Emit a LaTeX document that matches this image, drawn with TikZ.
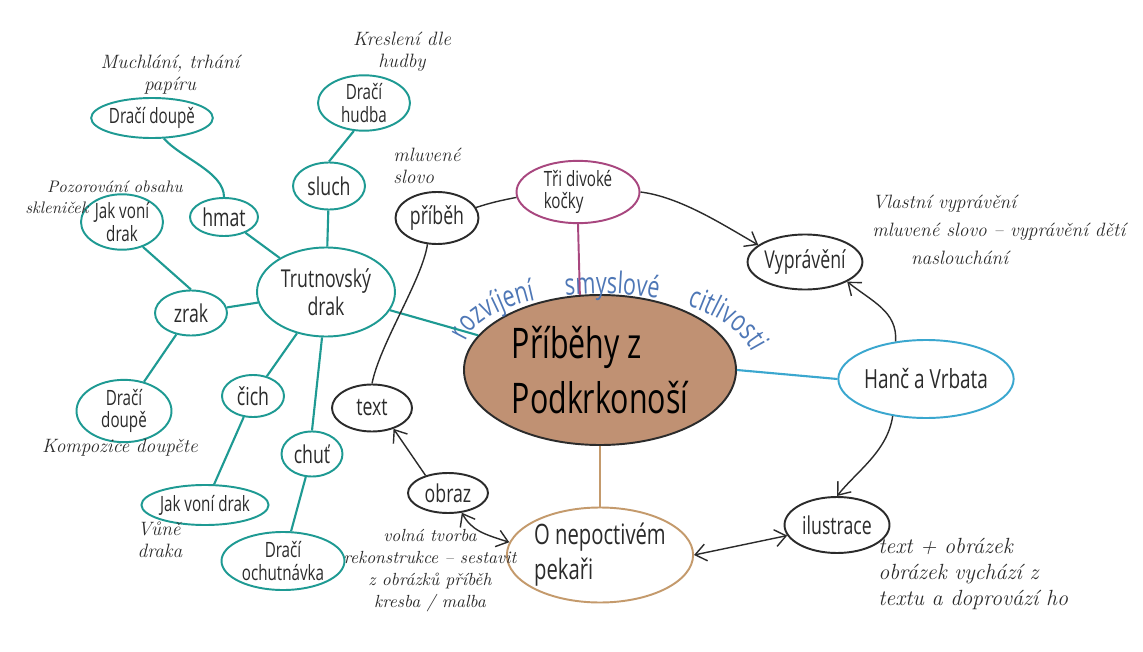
\documentclass[tikz,border=0pt]{standalone}
\usepackage{fontspec}
\newfontfamily\handfont{Open Sans}[FakeStretch=0.72]
\usepackage{tikz}
\usetikzlibrary{arrows.meta,shapes.geometric,decorations.text}
\definecolor{cteal}{HTML}{1E9A93}
\definecolor{cink}{HTML}{2B2B2B}
\definecolor{cmag}{HTML}{A8477F}
\definecolor{ccyan}{HTML}{3AA7CF}
\definecolor{ctan}{HTML}{C49A6C}
\definecolor{cbrown}{HTML}{C09173}
\definecolor{cblue}{HTML}{4E77B6}
\tikzset{
  bub/.style={ellipse, draw, line width=1.1pt, inner sep=0pt, fill=white, align=center, text=cink, font=\handfont\fontsize{14}{16}\selectfont},
  sz/.style 2 args={minimum width=#1*0.02cm, minimum height=#2*0.02cm},
  tealn/.style={bub, draw=cteal},
  inkn/.style={bub, draw=cink},
  magn/.style={bub, draw=cmag},
  cyann/.style={bub, draw=ccyan},
  tann/.style={bub, draw=ctan},
  smalln/.style={font=\handfont\fontsize{12}{13}\selectfont},
  tlink/.style={draw=cteal, line width=1.2pt},
  ilink/.style={draw=cink, line width=0.8pt},
  pre/.style={ilink, -{Straight Barb[length=2.2mm,width=3.4mm]}},
  dpre/.style={ilink, {Straight Barb[length=2.2mm,width=3.4mm]}-{Straight Barb[length=2.2mm,width=3.4mm]}},
  note/.style={font=\itshape\fontsize{11}{12.5}\selectfont, text=cink, align=center, inner sep=0pt},
}
\begin{document}
\begin{tikzpicture}[x=0.02cm, y=-0.02cm]
\useasboundingbox[fill=white] (0,0) rectangle (1143,652);
% centre
\node[inkn, fill=cbrown, sz={272}{150}, align=left, font=\handfont\fontsize{24}{31}\selectfont, text=black] (main) at (600,370) {P\v{r}íb\v{e}hy z\\Podkrkonoší};
\path[decorate, decoration={text along path, text align={fit to path stretching spaces},
  text={|\handfont\fontsize{17}{17}\selectfont\color{cblue}|rozvíjení smyslové citlivosti}}]
  (466,342) .. controls (490,278) and (712,273) .. (752,352);
% senses
\node[tealn, sz={138}{89}] (trut) at (326,292) {Trutnovský\\drak};
\node[tealn, sz={72}{47}] (sluch) at (329,186) {sluch};
\node[tealn, smalln, sz={92}{47}] (hudba) at (364,103) {Dra\v{c}í\\hudba};
\node[tealn, sz={68}{38}] (hmat) at (224,217) {hmat};
\node[tealn, smalln, sz={118}{40}] (doupeA) at (152,118) {Dra\v{c}í doup\v{e}};
\node[tealn, smalln, sz={82}{42}] (jakA) at (122,222) {Jak voní\\drak};
\node[tealn, sz={72}{45}] (zrak) at (191,313) {zrak};
\node[tealn, smalln, sz={95}{42}] (doupeB) at (124,411) {Dra\v{c}í\\doup\v{e}};
\node[tealn, sz={62}{42}] (cich) at (253,396) {\v{c}ich};
\node[tealn, smalln, sz={126}{40}] (jakB) at (205,505) {Jak voní drak};
\node[tealn, sz={61}{45}] (chut) at (312,454) {chu\v{t}};
\node[tealn, smalln, sz={123}{58}] (ochut) at (283,561) {Dra\v{c}í\\ochutnávka};
% stories
\node[magn, smalln, sz={123}{60}, align=left] (kocky) at (578,192) {T\v{r}i divoké\\ko\v{c}ky};
\node[inkn, sz={83}{52}] (pribeh) at (437,218) {p\v{r}íb\v{e}h};
\node[inkn, sz={114}{55}] (vypr) at (805,262) {Vyprávění};
\node[cyann, font=\handfont\fontsize{15}{16}\selectfont, sz={165}{78}] (hanc) at (926,379) {Han\v{c} a Vrbata};
\node[inkn, sz={105}{56}] (ilus) at (837,525) {ilustrace};
\node[tann, font=\handfont\fontsize{16}{20}\selectfont, sz={180}{95}, align=left] (pek) at (600,555) {O nepoctivém\\peka\v{r}i};
\node[inkn, sz={80}{40}] (obraz) at (448,493) {obraz};
\node[inkn, sz={80}{47}] (text) at (372,408) {text};
% notes
\node[note] (n1) at (170,75) {Muchlání, trhání\\papíru};
\node[note] (n2) at (402,52) {Kreslení dle\\hudby};
\node[note, align=left, anchor=west] (n3) at (393,166) {mluvené\\slovo};
\node[note, align=left, anchor=west, font=\itshape\fontsize{9.5}{12}\selectfont] (n4) at (25,197) {\hspace*{1.3em}Pozorování obsahu\\skleni\v{c}ek};
\node[note] (n5) at (120,448) {Kompozice doup\v{e}te};
\node[note, align=left] (n6) at (160,540) {Vůně\\draka};
\node[note, font=\itshape\fontsize{10}{12.5}\selectfont] (n7) at (430,571) {volná tvorba\\rekonstrukce -- sestavit\\z obrázků příb\v{e}h\\kresba / malba};
\node[note, align=left, anchor=west, font=\itshape\fontsize{11}{16}\selectfont] (n8) at (872,230) {Vlastní vyprávění\\mluvené slovo -- vyprávění dětí\\\hspace*{2em}naslouchání};
\node[note, align=left, anchor=west, font=\itshape\fontsize{12.5}{15}\selectfont] (n9) at (878,574) {text + obrázek\\obrázek vychází z\\textu a doprovází ho};
% teal links
\draw[tlink] (trut) -- (main);
\draw[tlink] (trut) -- (sluch);
\draw[tlink] (sluch.north) -- (hudba.250);
\draw[tlink] (trut) -- (hmat);
\draw[tlink] (doupeA.300) .. controls +(18,20) and +(0,-25) .. (hmat.north);
\draw[tlink] (trut) -- (zrak);
\draw[tlink] (jakA.310) -- (zrak.north);
\draw[tlink] (zrak) -- (doupeB);
\draw[tlink] (trut) -- (cich);
\draw[tlink] (cich) -- (jakB);
\draw[tlink] (trut.265) -- (chut.north);
\draw[tlink] (chut) -- (ochut);
% coloured links
\draw[draw=cmag, line width=1.1pt] (kocky.south) -- (main.105);
\draw[draw=ccyan, line width=1.2pt] (main.east) -- (hanc.west);
\draw[draw=ctan, line width=1.1pt] (main.south) -- (pek.north);
% ink links
\draw[ilink] (pribeh.15) .. controls +(15,-5) and +(-15,3) .. (kocky.185);
\draw[pre] (kocky.east) .. controls +(40,5) and +(-35,-20) .. (vypr.160);
\draw[pre] (hanc.129) .. controls +(2,-30) and +(25,20) .. (vypr.335);
\draw[pre] (hanc.228) .. controls +(-5,35) and +(20,-25) .. (ilus.north);
\draw[dpre] (pek.east) -- (ilus.192);
\draw[dpre] (obraz.305) .. controls +(10,18) and +(-25,-8) .. (pek.172);
\draw[pre] (obraz.142) -- (text.316);
\draw[ilink] (text.north) .. controls +(8,-40) and +(-5,35) .. (pribeh.250);
\end{tikzpicture}
\end{document}
